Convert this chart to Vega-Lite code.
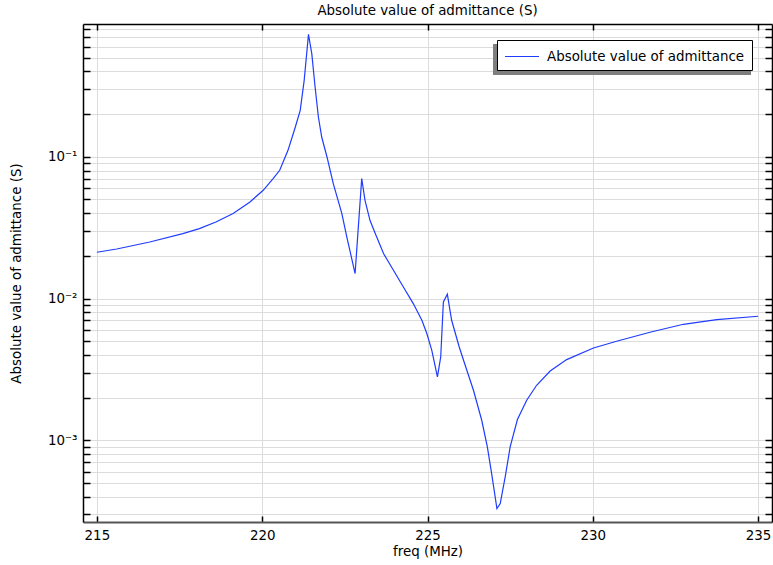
{
  "$schema": "https://vega.github.io/schema/vega-lite/v6.json",
  "width": 689,
  "height": 498,
  "autosize": "none",
  "padding": {"left": 83, "top": 24, "right": 1, "bottom": 43},
  "config": {"font": "DejaVu Sans", "view": {"stroke": null}},
  "title": {"text": "Absolute value of admittance (S)", "fontSize": 13.4, "fontWeight": "normal", "color": "#000", "offset": 6, "anchor": "middle"},
  "data": {"values": [
    {"f": 215.0, "Y": 0.0212, "series": "Absolute value of admittance"},
    {"f": 215.6, "Y": 0.02237, "series": "Absolute value of admittance"},
    {"f": 216.6, "Y": 0.02505, "series": "Absolute value of admittance"},
    {"f": 217.6, "Y": 0.02872, "series": "Absolute value of admittance"},
    {"f": 218.1, "Y": 0.03114, "series": "Absolute value of admittance"},
    {"f": 218.6, "Y": 0.03467, "series": "Absolute value of admittance"},
    {"f": 219.12, "Y": 0.03975, "series": "Absolute value of admittance"},
    {"f": 219.63, "Y": 0.04799, "series": "Absolute value of admittance"},
    {"f": 220.03, "Y": 0.05802, "series": "Absolute value of admittance"},
    {"f": 220.33, "Y": 0.07019, "series": "Absolute value of admittance"},
    {"f": 220.53, "Y": 0.0803, "series": "Absolute value of admittance"},
    {"f": 220.78, "Y": 0.1111, "series": "Absolute value of admittance"},
    {"f": 221.0, "Y": 0.1615, "series": "Absolute value of admittance"},
    {"f": 221.15, "Y": 0.2128, "series": "Absolute value of admittance"},
    {"f": 221.27, "Y": 0.3465, "series": "Absolute value of admittance"},
    {"f": 221.4, "Y": 0.7313, "series": "Absolute value of admittance"},
    {"f": 221.5, "Y": 0.5346, "series": "Absolute value of admittance"},
    {"f": 221.6, "Y": 0.3108, "series": "Absolute value of admittance"},
    {"f": 221.7, "Y": 0.1909, "series": "Absolute value of admittance"},
    {"f": 221.8, "Y": 0.1379, "series": "Absolute value of admittance"},
    {"f": 221.96, "Y": 0.0997, "series": "Absolute value of admittance"},
    {"f": 222.15, "Y": 0.06471, "series": "Absolute value of admittance"},
    {"f": 222.41, "Y": 0.03975, "series": "Absolute value of admittance"},
    {"f": 222.56, "Y": 0.02717, "series": "Absolute value of admittance"},
    {"f": 222.81, "Y": 0.015, "series": "Absolute value of admittance"},
    {"f": 223.01, "Y": 0.07019, "series": "Absolute value of admittance"},
    {"f": 223.11, "Y": 0.04933, "series": "Absolute value of admittance"},
    {"f": 223.26, "Y": 0.03565, "series": "Absolute value of admittance"},
    {"f": 223.42, "Y": 0.02872, "series": "Absolute value of admittance"},
    {"f": 223.67, "Y": 0.02076, "series": "Absolute value of admittance"},
    {"f": 223.97, "Y": 0.01582, "series": "Absolute value of admittance"},
    {"f": 224.27, "Y": 0.01206, "series": "Absolute value of admittance"},
    {"f": 224.57, "Y": 0.00921, "series": "Absolute value of admittance"},
    {"f": 224.83, "Y": 0.007025, "series": "Absolute value of admittance"},
    {"f": 224.98, "Y": 0.00566, "series": "Absolute value of admittance"},
    {"f": 225.13, "Y": 0.004313, "series": "Absolute value of admittance"},
    {"f": 225.3, "Y": 0.002797, "series": "Absolute value of admittance"},
    {"f": 225.4, "Y": 0.00387, "series": "Absolute value of admittance"},
    {"f": 225.48, "Y": 0.00946, "series": "Absolute value of admittance"},
    {"f": 225.6, "Y": 0.01072, "series": "Absolute value of admittance"},
    {"f": 225.73, "Y": 0.007025, "series": "Absolute value of admittance"},
    {"f": 225.96, "Y": 0.004551, "series": "Absolute value of admittance"},
    {"f": 226.09, "Y": 0.003667, "series": "Absolute value of admittance"},
    {"f": 226.39, "Y": 0.002253, "series": "Absolute value of admittance"},
    {"f": 226.64, "Y": 0.001384, "series": "Absolute value of admittance"},
    {"f": 226.81, "Y": 0.000897, "series": "Absolute value of admittance"},
    {"f": 226.94, "Y": 0.000582, "series": "Absolute value of admittance"},
    {"f": 227.1, "Y": 0.0003297, "series": "Absolute value of admittance"},
    {"f": 227.2, "Y": 0.0003576, "series": "Absolute value of admittance"},
    {"f": 227.35, "Y": 0.000551, "series": "Absolute value of admittance"},
    {"f": 227.5, "Y": 0.000897, "series": "Absolute value of admittance"},
    {"f": 227.72, "Y": 0.0014, "series": "Absolute value of admittance"},
    {"f": 228.0, "Y": 0.001915, "series": "Absolute value of admittance"},
    {"f": 228.3, "Y": 0.002443, "series": "Absolute value of admittance"},
    {"f": 228.71, "Y": 0.003082, "series": "Absolute value of admittance"},
    {"f": 229.21, "Y": 0.003709, "series": "Absolute value of admittance"},
    {"f": 230.02, "Y": 0.004478, "series": "Absolute value of admittance"},
    {"f": 230.72, "Y": 0.004994, "series": "Absolute value of admittance"},
    {"f": 231.73, "Y": 0.005779, "series": "Absolute value of admittance"},
    {"f": 232.74, "Y": 0.006581, "series": "Absolute value of admittance"},
    {"f": 233.75, "Y": 0.0071, "series": "Absolute value of admittance"},
    {"f": 235.0, "Y": 0.0075, "series": "Absolute value of admittance"}
  ]},
  "layer": [
    {
      "mark": {"type": "line", "strokeWidth": 1.2},
      "encoding": {
        "x": {"field": "f", "type": "quantitative",
          "scale": {"domain": [214.58, 235.42], "nice": false, "zero": false},
          "axis": {"orient": "bottom", "values": [215, 220, 225, 230, 235], "title": "freq (MHz)",
            "grid": true, "gridColor": "#dcdcdc", "gridWidth": 1, "tickSize": -6, "tickColor": "#000", "tickWidth": 1.5,
            "domainColor": "#555", "domainWidth": 2, "labelFontSize": 13.4, "labelColor": "#000", "labelPadding": 12,
            "titleFontSize": 13.4, "titleFontWeight": "normal", "titleColor": "#000", "titlePadding": 3, "labelFlush": false}},
        "y": {"field": "Y", "type": "quantitative",
          "scale": {"type": "log", "domain": [0.000265, 0.865], "nice": false},
          "axis": {"orient": "left", "title": "Absolute value of admittance (S)",
            "values": [0.0003, 0.0004, 0.0005, 0.0006, 0.0007, 0.0008, 0.0009, 0.001, 0.002, 0.003, 0.004, 0.005, 0.006, 0.007, 0.008, 0.009, 0.01, 0.02, 0.03, 0.04, 0.05, 0.06, 0.07, 0.08, 0.09, 0.1, 0.2, 0.3, 0.4, 0.5, 0.6, 0.7, 0.8],
            "labelExpr": "datum.value == 0.1 ? '10⁻¹' : datum.value == 0.01 ? '10⁻²' : datum.value == 0.001 ? '10⁻³' : ''",
            "grid": true, "gridColor": "#dcdcdc", "gridWidth": 1, "tickSize": -7, "tickColor": "#000", "tickWidth": 1.5,
            "domainColor": "#000", "domainWidth": 1.5, "labelFontSize": 13.4, "labelColor": "#000", "labelPadding": 13,
            "titleFontSize": 13.4, "titleFontWeight": "normal", "titleColor": "#000", "titlePadding": 24}},
        "color": {"field": "series", "type": "nominal", "scale": {"range": ["#1f3cff"]},
          "legend": {"orient": "none", "legendX": 414, "legendY": 16, "title": null, "zindex": 2,
            "fillColor": "#fff", "strokeColor": "#000", "padding": 7, "symbolType": "M-1,0H3",
            "symbolSize": 289, "symbolStrokeWidth": 1.2, "labelFontSize": 13.4, "labelColor": "#000", "labelOffset": 24, "labelLimit": 400}}
      }
    },
    {
      "mark": {"type": "line", "opacity": 0},
      "encoding": {
        "x": {"field": "f", "type": "quantitative",
          "axis": {"orient": "top", "values": [215, 220, 225, 230, 235], "labels": false, "title": null, "grid": false,
            "tickSize": -6, "tickColor": "#000", "tickWidth": 1.5, "domainColor": "#000", "domainWidth": 1.5}},
        "y": {"field": "Y", "type": "quantitative",
          "axis": {"orient": "right", "labels": false, "title": null, "grid": false,
            "values": [0.0003, 0.0004, 0.0005, 0.0006, 0.0007, 0.0008, 0.0009, 0.001, 0.002, 0.003, 0.004, 0.005, 0.006, 0.007, 0.008, 0.009, 0.01, 0.02, 0.03, 0.04, 0.05, 0.06, 0.07, 0.08, 0.09, 0.1, 0.2, 0.3, 0.4, 0.5, 0.6, 0.7, 0.8],
            "tickSize": -7, "tickColor": "#000", "tickWidth": 1.5, "domainColor": "#000", "domainWidth": 1.5}},
        "strokeDash": {"datum": "shadow", "type": "nominal",
          "legend": {"orient": "none", "legendX": 409, "legendY": 19, "title": null, "zindex": 1, "padding": 0,
            "symbolType": "M0,0H258V31H0Z", "symbolSize": 4, "symbolFillColor": "#7f7f7f", "symbolStrokeColor": "#7f7f7f",
            "symbolStrokeWidth": 0, "symbolOpacity": 1, "labelExpr": "''", "labelFontSize": 1}}
      }
    }
  ],
  "resolve": {"axis": {"x": "independent", "y": "independent"}}
}
